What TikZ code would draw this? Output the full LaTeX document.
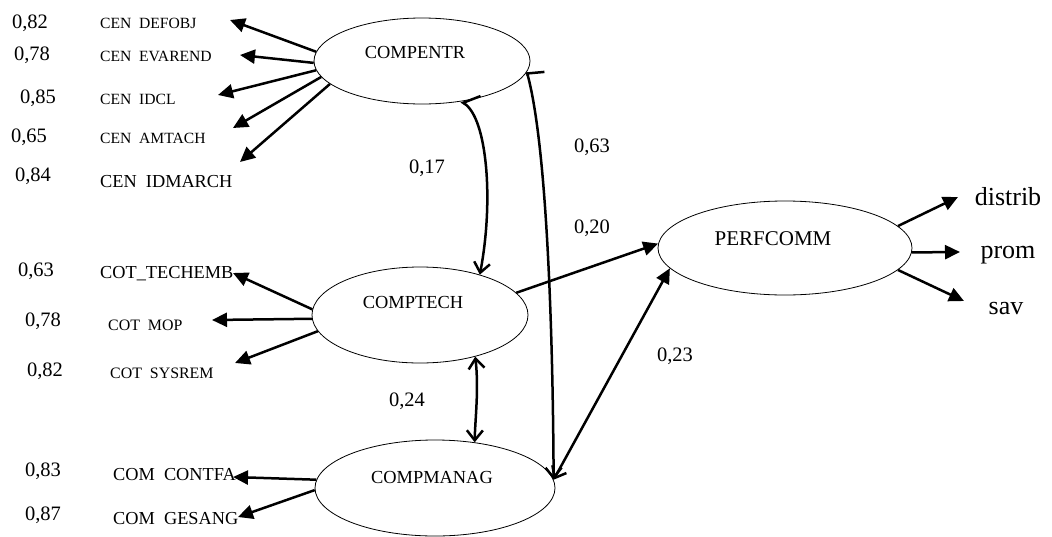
\documentclass[tikz,border=0pt]{standalone}
\usepackage{fontspec}
\setmainfont{Liberation Serif}
\usetikzlibrary{shapes.geometric,arrows.meta}
\tikzset{
  lv/.style={draw, ellipse, line width=0.8pt, inner sep=0pt},
  lvtext/.style={font=\fontsize{18.4}{20}\selectfont, inner sep=0pt, anchor=base},
  num/.style={font=\fontsize{20.5}{22}\selectfont, inner sep=0pt, anchor=base},
  coef/.style={font=\fontsize{20.5}{22}\selectfont, inner sep=0pt, anchor=base},
  smalllbl/.style={font=\fontsize{15.6}{18}\selectfont, inner sep=0pt, anchor=base west},
  biglbl/.style={font=\fontsize{18.3}{20}\selectfont, inner sep=0pt, anchor=base west},
  outlbl/.style={font=\fontsize{26}{28}\selectfont, inner sep=0pt, anchor=base},
  meas/.style={line width=2.5pt, -{Triangle[length=15pt,width=14pt]}},
  path/.style={line width=2.5pt},
  fhead/.style={-{Triangle[length=15pt,width=14pt]}},
}
\begin{document}
\begin{tikzpicture}[x=1pt,y=-1pt]
\path[use as bounding box] (0,0) rectangle (1052,536);

% latent variables
\node[lv, minimum width=216pt, minimum height=86pt] (E1) at (422,61) {};
\node[lv, minimum width=216pt, minimum height=96pt] (E2) at (420,315) {};
\node[lv, minimum width=240pt, minimum height=96pt] (E3) at (435,488) {};
\node[lv, minimum width=254pt, minimum height=94pt] (E4) at (785,248) {};
\node[lvtext] (t1) at (415,58.3) {COMPENTR};
\node[lvtext] (t2) at (413,308) {COMPTECH};
\node[lvtext] (t3) at (432,483) {COMPMANAG};
\node[lvtext, font=\fontsize{21}{23}\selectfont] (t4) at (773,245) {PERFCOMM};

% left labels, top group
\node[num] (n1) at (30,28) {0,82};
\node[num] (n2) at (32,60) {0,78};
\node[num] (n3) at (38,103) {0,85};
\node[num] (n4) at (29,142) {0,65};
\node[num] (n5) at (33,181) {0,84};
\node[smalllbl] (l1) at (100,28) {CEN\ \ DEFOBJ};
\node[smalllbl] (l2) at (100,61) {CEN\ \ EVAREND};
\node[smalllbl] (l3) at (100,104) {CEN\ \ IDCL};
\node[smalllbl] (l4) at (100,143) {CEN\ \ AMTACH};
\node[biglbl] (l5) at (100,187) {CEN\ \ IDMARCH};

% left labels, middle group
\node[num] (n6) at (36,276) {0,63};
\node[num] (n7) at (43,326) {0,78};
\node[num] (n8) at (45,376) {0,82};
\node[biglbl] (l6) at (100,278) {COT\_TECHEMB};
\node[smalllbl, font=\fontsize{15.9}{18}\selectfont] (l7) at (108,330) {COT\ \ MOP};
\node[smalllbl, font=\fontsize{15.9}{18}\selectfont] (l8) at (110,378) {COT\ \ SYSREM};

% left labels, bottom group
\node[num] (n9) at (43,476) {0,83};
\node[num] (n10) at (43,520) {0,87};
\node[biglbl] (l9) at (113,480) {COM\ \ CONTFA};
\node[biglbl] (l10) at (113,524) {COM\ \ GESANG};

% right labels
\node[outlbl] (r1) at (1008,205) {distrib};
\node[outlbl] (r2) at (1008,258) {prom};
\node[outlbl] (r3) at (1006,314) {sav};

% arrow tips
\coordinate (a1) at (230,20);
\coordinate (a2) at (240,55);
\coordinate (a3) at (218,95);
\coordinate (a4) at (233,128);
\coordinate (a5) at (240,162);
\coordinate (b1) at (233,273);
\coordinate (b2) at (212,320);
\coordinate (b3) at (235,363);
\coordinate (c1) at (233,477);
\coordinate (c2) at (238,517);
\coordinate (d1) at (958,197);
\coordinate (d2) at (960,252);
\coordinate (d3) at (964,301);

% measurement arrows
\draw[meas] (E1.175.7) -- (a1);
\draw[meas] (E1.181) -- (a2);
\draw[meas] (E1.185.8) -- (a3);
\draw[meas] (E1.189.3) -- (a4);
\draw[meas] (E1.194.2) -- (a5);
\draw[meas] (E2.177.3) -- (b1);
\draw[meas] (E2.182.6) -- (b2);
\draw[meas] (E2.189.2) -- (b3);
\draw[meas] (E3.176.6) -- (c1);
\draw[meas] (E3.181) -- (c2);
\draw[meas] (E4.11.1) -- (d1);
\draw[meas] (E4.358.2) -- (d2);
\draw[meas] (E4.349.4) -- (d3);

% structural paths and correlations
\draw[path, {Straight Barb[harpoon,swap,length=11pt,width=30pt]}-{Straight Barb[length=10pt,width=16pt]}]
  (E1.314.3) .. controls (487,118) and (494,200) .. (E2.34.3);
\draw[path, {Straight Barb[harpoon,swap,length=3pt,width=34pt]}-{Straight Barb[length=10pt,width=16pt]}]
  (E1.354) .. controls (548,150) and (553,350) .. (E3.4.8);
\draw[path, {Straight Barb[length=10pt,width=16pt]}-{Straight Barb[length=10pt,width=16pt]}]
  (E2.323.1) .. controls (479,390) and (475,420) .. (E3.49.8);
\draw[path, fhead] (E2.13.3) -- (E4.178.7);
\draw[path, {Straight Barb[length=10pt,width=16pt]}-{Triangle[length=15pt,width=14pt]}]
  (E3.4.8) -- (E4.190);

% coefficients
\node[coef] (k1) at (427,173) {0,17};
\node[coef] (k2) at (592,152) {0,63};
\node[coef] (k3) at (592,233) {0,20};
\node[coef] (k4) at (675,361) {0,23};
\node[coef] (k5) at (407,406) {0,24};
\end{tikzpicture}
\end{document}
